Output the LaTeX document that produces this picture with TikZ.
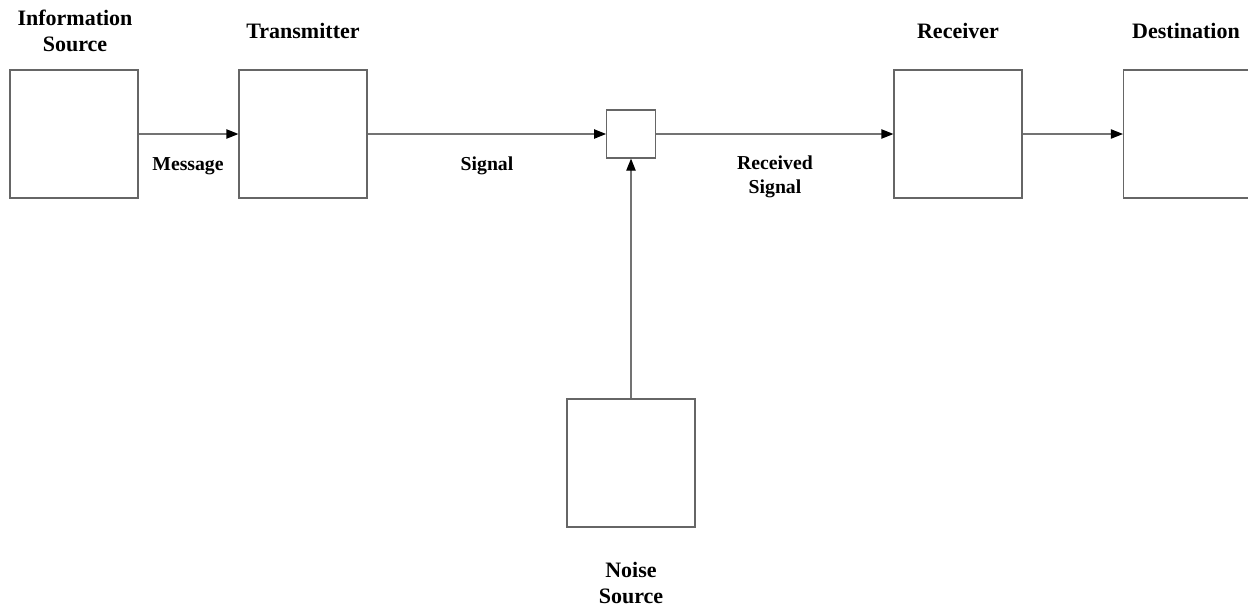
\documentclass[tikz,border=0pt]{standalone}
\usepackage{fontspec}
\setmainfont{Liberation Serif}
\usetikzlibrary{arrows.meta}
\tikzset{
  blk/.style={draw=black!60, line width=0.9pt, minimum width=96pt, minimum height=96pt, inner sep=0pt, fill=white},
  smallblk/.style={draw=black!60, line width=0.9pt, minimum width=36.5pt, minimum height=36pt, inner sep=0pt},
  conn/.style={draw=black!55, line width=0.9pt, -{Triangle[length=9pt,width=7pt,color=black]}},
  ttl/.style={font=\fontsize{16.5}{19.5}\selectfont\bfseries, align=center, inner sep=0pt},
  lbl/.style={font=\fontsize{14.8}{18}\selectfont\bfseries, align=center, inner sep=0pt}
}
\begin{document}
\begin{tikzpicture}[x=0.75pt,y=-0.75pt]
\useasboundingbox (0,0) rectangle (1248,607);
\clip (0,0) rectangle (1248,607);
\node[blk] (src) at (74,134) {};
\node[blk] (tx) at (303,134) {};
\node[smallblk] (ch) at (631,134) {};
\node[blk] (rx) at (958,134) {};
\node[blk] (dst) at (1187.5,134) {};
\node[blk] (noise) at (631,463) {};
\node[ttl] (tsrc) at (75,31) {Information\\Source};
\node[ttl] (ttx) at (303,31) {Transmitter};
\node[ttl] (trx) at (958,31) {Receiver};
\node[ttl] (tdst) at (1186,31) {Destination};
\node[ttl] (tnoise) at (631,583) {Noise\\Source};
\node[lbl] (lmsg) at (188,166) {Message};
\node[lbl] (lsig) at (487,166) {Signal};
\node[lbl] (lrs) at (775,177) {Received\\Signal};
\draw[conn] (src.east) -- (tx.west);
\draw[conn] (tx.east) -- (ch.west);
\draw[conn] (ch.east) -- (rx.west);
\draw[conn] (rx.east) -- (dst.west);
\draw[conn] (noise.north) -- (ch.south);
\end{tikzpicture}
\end{document}
